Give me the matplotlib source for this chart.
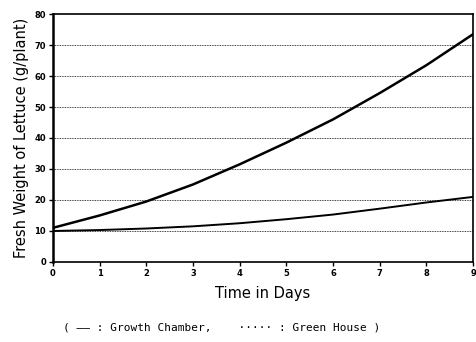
import matplotlib
matplotlib.use("Agg")
import matplotlib.pyplot as plt

days = [0, 1, 2, 3, 4, 5, 6, 7, 8, 9]
growth_chamber = [11, 15, 19.5, 25, 31.5, 38.5, 46, 54.5, 63.5, 73.5]
green_house = [10, 10.3, 10.8, 11.5, 12.5, 13.8, 15.3, 17.2, 19.2, 21]
yticks = [0, 10, 20, 30, 40, 50, 60, 70, 80]

fig = plt.figure(figsize=(4.76, 3.42), dpi=100)
ax = fig.add_axes([0.111, 0.234, 0.883, 0.725])

ax.plot(days, growth_chamber, color="black", lw=1.8)
ax.plot(days, green_house, color="black", lw=1.4)

for y in yticks[1:-1]:
    ax.axhline(y, color="black", lw=0.6, ls=(0, (1, 1)))

ax.set_xlim(0, 9)
ax.set_ylim(0, 80)
ax.set_xticks(days)
ax.set_yticks(yticks)
ax.tick_params(axis="both", labelsize=6, length=3, width=1, pad=2)
for lab in ax.get_xticklabels() + ax.get_yticklabels():
    lab.set_fontweight("bold")
for s in ax.spines.values():
    s.set_linewidth(1.2)
ax.spines["left"].set_linewidth(1.8)

ax.set_xlabel("Time in Days", fontsize=10.5, labelpad=6)
ax.set_ylabel("Fresh Weight of Lettuce (g/plant)", fontsize=10.5, labelpad=4)

fig.text(0.465, 0.043, "( \u2014\u2014 : Growth Chamber,    \u00b7\u00b7\u00b7\u00b7\u00b7 : Green House )",
         ha="center", va="center", fontsize=8, family="DejaVu Sans Mono")

fig.savefig("out.png", dpi=100)
